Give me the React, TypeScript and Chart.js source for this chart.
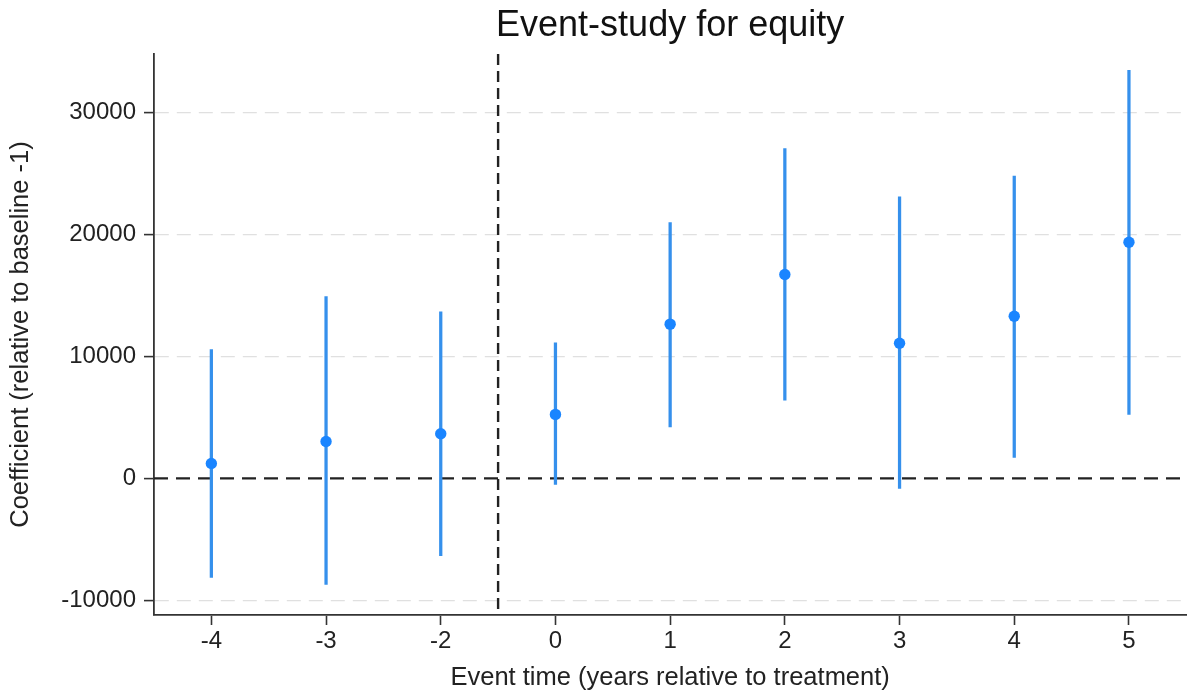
import React, { useEffect, useRef } from "react";
import { Chart, registerables } from "chart.js";

Chart.register(...registerables);

// Event times (years relative to treatment); -1 is the omitted baseline
const eventTimes = ["-4", "-3", "-2", "0", "1", "2", "3", "4", "5"];
// Point estimates
const coefficients = [1230, 3030, 3660, 5250, 12650, 16720, 11090, 13300, 19370];
// Confidence interval bounds
const ciLower = [-8120, -8690, -6340, -490, 4230, 6420, -820, 1720, 5250];
const ciUpper = [10570, 14900, 13650, 11110, 20980, 27050, 23080, 24780, 33470];
// Y axis tick values
const yTickValues = [-10000, 0, 10000, 20000, 30000];

const FONT = "'Liberation Sans', Arial, Helvetica, sans-serif";
const BLUE = "#1a85ff";
const AXIS = "#333333";

// Zero line and treatment-onset marker (between -2 and 0)
const referenceLines = {
  id: "referenceLines",
  beforeDatasetsDraw(chart: any) {
    const { ctx, chartArea, scales } = chart;
    const x = scales.x;
    const y = scales.y;
    ctx.save();
    ctx.beginPath();
    ctx.rect(chartArea.left, chartArea.top, chartArea.right - chartArea.left, chartArea.bottom - chartArea.top);
    ctx.clip();
    ctx.strokeStyle = "#222222";
    ctx.lineWidth = 2.4;

    const y0 = y.getPixelForValue(0);
    ctx.setLineDash([14, 8]);
    ctx.beginPath();
    ctx.moveTo(chartArea.left, y0);
    ctx.lineTo(chartArea.right, y0);
    ctx.stroke();

    const xm = (x.getPixelForValue(2) + x.getPixelForValue(3)) / 2;
    ctx.setLineDash([11, 6]);
    ctx.beginPath();
    ctx.moveTo(xm, chartArea.top);
    ctx.lineTo(xm, chartArea.bottom);
    ctx.stroke();
    ctx.restore();
  },
};

export default function App() {
  const canvasRef = useRef<HTMLCanvasElement | null>(null);

  useEffect(() => {
    const canvas = canvasRef.current;
    if (!canvas) return;
    const chart = new Chart(canvas, {
      type: "bar",
      data: {
        labels: eventTimes,
        datasets: [
          {
            type: "line",
            label: "Coefficient",
            data: coefficients,
            showLine: false,
            pointRadius: 5.7,
            pointBackgroundColor: BLUE,
            pointBorderColor: BLUE,
            pointBorderWidth: 0,
            order: 0,
          } as any,
          {
            type: "bar",
            label: "95% CI",
            data: ciLower.map((lo, i) => [lo, ciUpper[i]]),
            backgroundColor: "#3590ec",
            borderWidth: 0,
            barThickness: 2.6,
            order: 1,
          } as any,
        ],
      },
      options: {
        responsive: false,
        animation: false,
        layout: { padding: { left: 0, right: 3, top: 0, bottom: 0 } },
        plugins: {
          legend: { display: false },
          tooltip: { enabled: false },
          title: {
            display: true,
            fullSize: false,
            text: "Event-study for equity",
            color: "#111111",
            font: { family: FONT, size: 36, weight: "normal" },
            padding: { top: 4, bottom: 6.8 },
          },
        },
        scales: {
          x: {
            type: "category",
            offset: true,
            afterFit: (s: any) => {
              s.height = 78;
            },
            grid: {
              display: true,
              offset: false,
              drawOnChartArea: false,
              drawTicks: true,
              tickLength: 10,
              tickColor: AXIS,
              tickWidth: 1.6,
              color: AXIS,
            },
            border: { display: true, color: AXIS, width: 1.8 },
            ticks: {
              color: "#222222",
              padding: 2,
              maxRotation: 0,
              font: { family: FONT, size: 24 },
            },
            title: {
              display: true,
              text: "Event time (years relative to treatment)",
              color: "#222222",
              font: { family: FONT, size: 25.5 },
              padding: { top: 0, bottom: 0 },
            },
          },
          y: {
            type: "linear",
            min: -11200,
            max: 34800,
            afterFit: (s: any) => {
              s.width = 154;
            },
            afterBuildTicks: (s: any) => {
              s.ticks = yTickValues.map((v) => ({ value: v }));
            },
            grid: {
              display: true,
              drawOnChartArea: true,
              drawTicks: true,
              tickLength: 10,
              lineWidth: 1.2,
              tickWidth: 1.6,
              tickColor: AXIS,
              color: (ctx: any) => (ctx.tick && ctx.tick.value === 0 ? "rgba(0,0,0,0)" : "#e0e0e0"),
            },
            border: { display: true, color: AXIS, width: 1.8, dash: [14, 8] },
            ticks: {
              color: "#222222",
              padding: 8,
              font: { family: FONT, size: 24 },
              callback: (v: any) => String(v),
            },
            title: {
              display: true,
              text: "Coefficient (relative to baseline -1)",
              color: "#222222",
              font: { family: FONT, size: 25.5 },
              padding: { top: 6, bottom: 0 },
            },
          },
        },
      },
      plugins: [referenceLines],
    });
    return () => chart.destroy();
  }, []);

  return (
    <canvas
      ref={canvasRef}
      width={1192}
      height={693}
      style={{ position: "absolute", left: 0, top: 0, display: "block", background: "#ffffff" }}
    />
  );
}
